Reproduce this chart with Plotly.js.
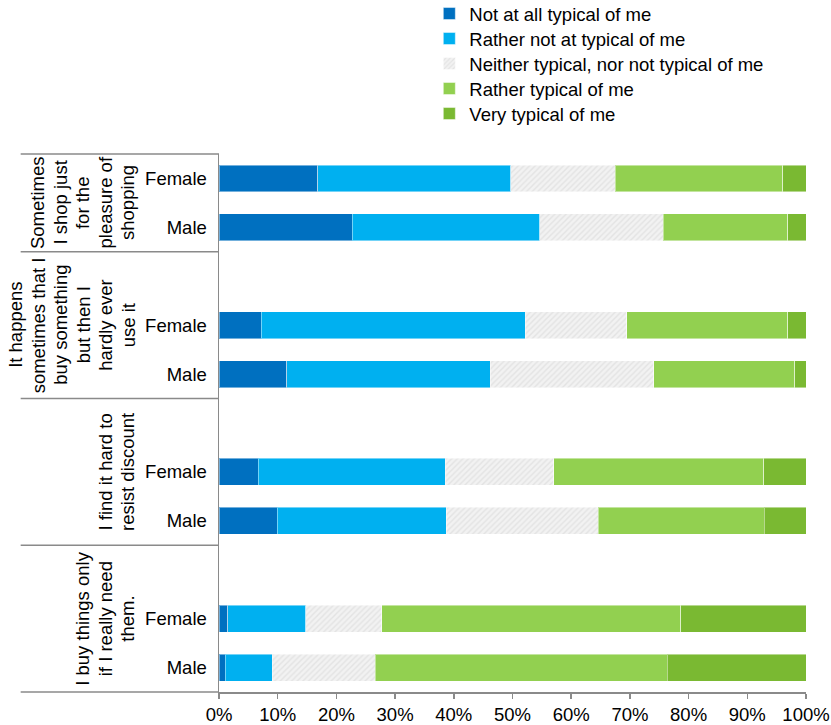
<!DOCTYPE html>
<html>
<head>
<meta charset="utf-8">
<script src="https://cdn.plot.ly/plotly-3.0.1.min.js"></script>
<style>
  html, body { margin: 0; padding: 0; background: #fff; }
  #chart { width: 831px; height: 725px; }
</style>
</head>
<body>
<div id="chart"></div>
<script>
// Survey statements (outer category level), one entry per printed line
const statements = [
  ['Sometimes', 'I shop just', 'for the', 'pleasure of', 'shopping'],
  ['It happens', 'sometimes that I', 'buy something', 'but then I', 'hardly ever', 'use it'],
  ['I find it hard to', 'resist discount'],
  ['I buy things only', 'if I really need', 'them.']
];
// Inner category level
const genders = ['Female', 'Male'];

// Answer scale (legend entries)
const answers = [
  'Not at all typical of me',
  'Rather not at typical of me',
  'Neither typical, nor not typical of me',
  'Rather typical of me',
  'Very typical of me'
];

// Share of respondents (%), rows: statement by statement, Female then Male
const notAtAll      = [16.8, 22.7,  7.2, 11.5,  6.7,  9.9,  1.5,  1.1];
const ratherNot     = [32.9, 31.9, 45.0, 34.7, 31.8, 28.8, 13.3,  8.0];
const neither       = [17.8, 21.1, 17.3, 27.9, 18.5, 25.9, 12.9, 17.5];
const ratherTypical = [28.5, 21.2, 27.4, 24.0, 35.8, 28.3, 51.0, 49.8];
const veryTypical   = [ 4.0,  3.1,  3.1,  1.9,  7.2,  7.1, 21.3, 23.6];

const seriesValues = [notAtAll, ratherNot, neither, ratherTypical, veryTypical];
const colors = ['#0070C0', '#00B0F0', '#F0F0F0', '#92D050', '#7AB932'];

const FONT = 'Liberation Sans, Arial, sans-serif';
const FS = 18.5;
const GRAY = '#8A8A8A';

const W = 831, H = 725;
const M = { l: 218.5, r: 25, t: 154, b: 33 };
const plotW = W - M.l - M.r, plotH = H - M.t - M.b;
// pixel helpers for placing decorations relative to the plot area
const pxToPaperX = px => (px - M.l) / plotW;
const pxToPaperY = py => 1 + (M.t - py) / plotH;

// Row layout: every statement after the first gets one empty row above it
const ROWS_PER_GROUP = 3;
const nRows = statements.length * ROWS_PER_GROUP - 1;
const rowPos = [];
const rowText = [];
statements.forEach((s, si) => {
  genders.forEach((g, gi) => {
    rowPos.push(si * ROWS_PER_GROUP + gi);
    rowText.push(g);
  });
});
const yMin = -0.5, yMax = nRows - 0.5;
const groupTop = si => (si === 0 ? yMin : si * ROWS_PER_GROUP - 1.5);
const groupBottom = si => si * ROWS_PER_GROUP + 1.5;
// data row -> paper fraction (axis is reversed)
const toPaper = v => (yMax - v) / (yMax - yMin);

const legendIds = answers.map((a, k) => (k === 0 ? 'legend' : 'legend' + (k + 1)));

const traces = answers.map((name, k) => {
  const t = {
    type: 'bar',
    orientation: 'h',
    name: name,
    legend: legendIds[k],
    x: seriesValues[k],
    y: rowPos,
    width: 0.55,
    marker: {
      color: colors[k],
      line: { color: 'rgba(255,255,255,0.45)', width: 1 }
    },
    hoverinfo: 'x+name'
  };
  if (k === 2) {
    t.marker.pattern = {
      shape: '/', fillmode: 'replace',
      bgcolor: '#F2F2F2', fgcolor: '#E3E3E3',
      size: 4, solidity: 0.35
    };
  }
  return t;
});

// Bracket lines separating the statement groups on the left
const LEFT = pxToPaperX(20);
const bounds = [groupTop(0)].concat(statements.map((s, si) => groupBottom(si)));
const shapes = bounds.map(b => ({
  type: 'line', xref: 'paper', yref: 'paper',
  x0: LEFT, x1: 0, y0: toPaper(b), y1: toPaper(b),
  line: { color: GRAY, width: 1.5 }
}));

// Rotated statement labels, one annotation per line so the line pitch stays tight
const LAST_LINE_PX = 127.5, LINE_PITCH = 22.5;
const annotations = [];
statements.forEach((lines, si) => {
  const yc = (groupTop(si) + groupBottom(si)) / 2;
  lines.forEach((line, li) => {
    annotations.push({
      xref: 'paper', yref: 'y',
      x: pxToPaperX(LAST_LINE_PX - (lines.length - 1 - li) * LINE_PITCH),
      y: yc,
      xanchor: 'center', yanchor: 'middle',
      text: line, textangle: -90, showarrow: false,
      font: { family: FONT, size: FS, color: '#000' }
    });
  });
});

const layout = {
  width: W, height: H,
  margin: Object.assign({ autoexpand: false }, M),
  paper_bgcolor: '#fff', plot_bgcolor: '#fff',
  font: { family: FONT, size: FS, color: '#000' },
  barmode: 'stack',
  bargap: 0.45,
  showlegend: true,
  xaxis: {
    range: [0, 100], dtick: 10, tick0: 0,
    ticksuffix: '%',
    showgrid: false, zeroline: false,
    showline: true, linecolor: GRAY, linewidth: 1.5,
    ticks: 'outside', ticklen: 5, tickwidth: 1.5, tickcolor: GRAY,
    tickfont: { family: FONT, size: FS, color: '#000' },
    fixedrange: true
  },
  yaxis: {
    range: [yMax, yMin],
    tickvals: rowPos, ticktext: rowText,
    showgrid: false, zeroline: false,
    showline: true, linecolor: GRAY, linewidth: 1.5,
    ticks: '', ticklabelstandoff: 7,
    tickfont: { family: FONT, size: FS, color: '#000' },
    automargin: false, fixedrange: true
  },
  shapes: shapes,
  annotations: annotations
};

// one single-entry legend per answer, stacked with a 25px pitch
const LEGEND_TOP_PX = 14, LEGEND_PITCH = 25;
legendIds.forEach((id, k) => {
  layout[id] = {
    x: pxToPaperX(429), xanchor: 'left',
    y: pxToPaperY(LEGEND_TOP_PX + k * LEGEND_PITCH), yanchor: 'middle',
    bgcolor: 'rgba(0,0,0,0)',
    font: { family: FONT, size: FS, color: '#000' }
  };
});

Plotly.newPlot('chart', traces, layout, { displayModeBar: false, staticPlot: true });
</script>
</body>
</html>
